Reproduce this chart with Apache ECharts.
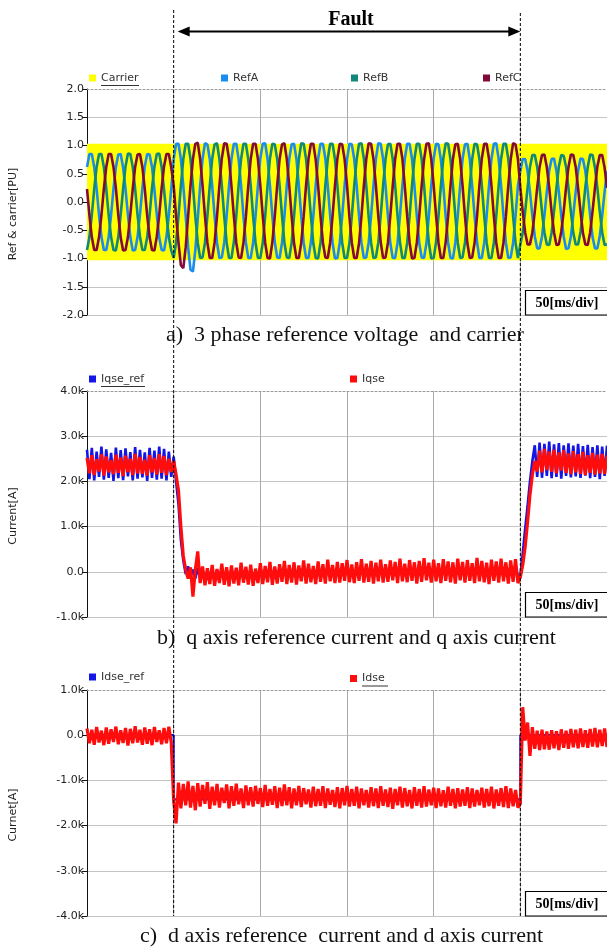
<!DOCTYPE html>
<html>
<head>
<meta charset="utf-8">
<script src="https://cdn.jsdelivr.net/npm/echarts@6/dist/echarts.min.js"></script>
<style>
html,body{margin:0;padding:0;background:#fff;}
#chart{width:607px;height:949px;}
</style>
</head>
<body>
<div id="chart"></div>
<script>
// ---------- data ----------
// sample step: 12 samples per 60 Hz cycle (ms)
const sampleStepMs = 25 / 18;
const faultMs = [50, 250];

const carrierTime = [0, 300];
const carrierPeak = [1.03, 1.03];
const carrierTrough = -1.03;

const refA = [
  0.62,0.85,0.85,0.62,0.23,-0.23,-0.62,-0.85,-0.85,-0.62,-0.23,0.23,
  0.62,0.84,0.85,0.61,0.23,-0.23,-0.62,-0.86,-0.85,-0.62,-0.22,0.24,
  0.63,0.85,0.84,0.62,0.22,-0.23,-0.63,-0.85,-0.86,-0.62,-0.23,0.23,
  0.76,1.03,1.03,0.76,0.29,-0.25,-0.80,-1.20,-1.23,-0.85,-0.30,0.29,
  0.76,1.04,1.02,0.76,0.29,-0.25,-0.72,-0.99,-0.98,-0.72,-0.25,0.29,
  0.76,1.03,1.03,0.75,0.29,-0.26,-0.72,-0.99,-0.99,-0.72,-0.25,0.29,
  0.77,1.03,1.04,0.76,0.28,-0.25,-0.71,-0.98,-0.99,-0.72,-0.25,0.30,
  0.76,1.02,1.03,0.76,0.29,-0.25,-0.72,-0.99,-0.99,-0.71,-0.25,0.29,
  0.76,1.03,1.03,0.77,0.29,-0.24,-0.72,-1.00,-0.99,-0.72,-0.26,0.29,
  0.75,1.03,1.02,0.76,0.30,-0.25,-0.72,-0.99,-0.98,-0.72,-0.25,0.29,
  0.76,1.04,1.03,0.76,0.29,-0.25,-0.73,-0.99,-0.99,-0.72,-0.24,0.28,
  0.76,1.03,1.03,0.76,0.29,-0.25,-0.72,-0.98,-0.99,-0.73,-0.25,0.29,
  0.77,1.03,1.02,0.75,0.29,-0.26,-0.72,-0.99,-1.00,-0.72,-0.25,0.29,
  0.76,1.02,1.03,0.76,0.28,-0.25,-0.71,-0.99,-0.99,-0.72,-0.25,0.30,
  0.76,1.03,1.04,0.76,0.29,-0.25,-0.72,-0.99,-0.98,-0.72,-0.25,0.29,
  0.55,0.76,0.76,0.55,0.18,-0.24,-0.61,-0.82,-0.82,-0.61,-0.24,0.18,
  0.56,0.76,0.77,0.55,0.18,-0.24,-0.61,-0.83,-0.82,-0.61,-0.23,0.18,
  0.55,0.77,0.76,0.55,0.19,-0.24,-0.62,-0.82,-0.82,-0.60,-0.24,0.18,
  0.55
];

const refB = [
  -0.85,-0.62,-0.23,0.23,0.62,0.85,0.85,0.62,0.23,-0.23,-0.62,-0.85,
  -0.86,-0.62,-0.22,0.23,0.63,0.86,0.85,0.62,0.23,-0.23,-0.61,-0.85,
  -0.85,-0.63,-0.23,0.24,0.62,0.85,0.86,0.62,0.22,-0.23,-0.62,-0.86,
  -0.99,-0.72,-0.25,0.29,0.76,1.03,1.03,0.76,0.29,-0.25,-0.72,-0.99,
  -0.98,-0.72,-0.25,0.29,0.76,1.02,1.04,0.76,0.29,-0.25,-0.72,-0.99,
  -0.99,-0.71,-0.25,0.30,0.76,1.03,1.03,0.75,0.29,-0.25,-0.72,-0.99,
  -0.99,-0.72,-0.26,0.29,0.77,1.03,1.02,0.76,0.29,-0.24,-0.72,-0.98,
  -0.99,-0.72,-0.25,0.29,0.76,1.04,1.03,0.76,0.28,-0.25,-0.73,-0.99,
  -1.00,-0.72,-0.25,0.29,0.76,1.03,1.03,0.76,0.29,-0.25,-0.72,-0.99,
  -0.99,-0.73,-0.25,0.28,0.75,1.03,1.04,0.77,0.29,-0.26,-0.72,-0.99,
  -0.98,-0.72,-0.24,0.29,0.76,1.02,1.03,0.76,0.29,-0.25,-0.71,-0.99,
  -0.99,-0.72,-0.25,0.29,0.76,1.03,1.03,0.76,0.30,-0.25,-0.72,-1.00,
  -0.99,-0.71,-0.25,0.29,0.77,1.04,1.03,0.75,0.29,-0.25,-0.72,-0.99,
  -0.98,-0.72,-0.26,0.29,0.76,1.03,1.02,0.76,0.29,-0.24,-0.72,-0.99,
  -0.99,-0.72,-0.25,0.29,0.76,1.03,1.03,0.76,0.29,-0.25,-0.72,-0.99,
  -0.75,-0.54,-0.17,0.25,0.62,0.83,0.83,0.62,0.25,-0.17,-0.54,-0.75,
  -0.76,-0.54,-0.16,0.25,0.63,0.83,0.82,0.62,0.24,-0.17,-0.55,-0.75,
  -0.75,-0.53,-0.17,0.26,0.62,0.84,0.83,0.61,0.25,-0.17,-0.54,-0.76,
  -0.75
];

const refC = [
  0.23,-0.23,-0.62,-0.85,-0.85,-0.62,-0.23,0.23,0.62,0.85,0.85,0.62,
  0.24,-0.23,-0.63,-0.86,-0.85,-0.62,-0.22,0.23,0.62,0.84,0.85,0.62,
  0.23,-0.24,-0.62,-0.85,-0.86,-0.61,-0.23,0.24,0.63,0.85,0.85,0.61,
  0.29,-0.25,-0.72,-1.12,-1.17,-0.80,-0.25,0.29,0.76,1.03,1.05,0.76,
  0.29,-0.25,-0.72,-0.99,-0.99,-0.72,-0.25,0.29,0.77,1.04,1.03,0.76,
  0.28,-0.25,-0.72,-0.98,-0.99,-0.72,-0.26,0.29,0.76,1.03,1.03,0.76,
  0.29,-0.24,-0.72,-0.99,-1.00,-0.71,-0.25,0.29,0.76,1.02,1.04,0.76,
  0.29,-0.25,-0.73,-0.99,-0.99,-0.72,-0.25,0.30,0.76,1.03,1.03,0.75,
  0.29,-0.25,-0.72,-0.98,-0.99,-0.72,-0.25,0.29,0.77,1.03,1.02,0.76,
  0.30,-0.26,-0.72,-0.99,-0.99,-0.73,-0.25,0.29,0.76,1.04,1.03,0.76,
  0.29,-0.25,-0.71,-0.99,-0.98,-0.72,-0.24,0.29,0.76,1.03,1.03,0.77,
  0.28,-0.25,-0.72,-1.00,-0.99,-0.72,-0.25,0.28,0.75,1.03,1.04,0.76,
  0.29,-0.24,-0.72,-0.99,-0.99,-0.71,-0.25,0.29,0.76,1.02,1.03,0.76,
  0.29,-0.25,-0.73,-0.99,-0.98,-0.72,-0.26,0.29,0.77,1.03,1.03,0.76,
  0.29,-0.25,-0.72,-0.99,-0.99,-0.72,-0.25,0.29,0.76,1.04,1.02,0.76,
  0.25,-0.17,-0.54,-0.75,-0.75,-0.54,-0.17,0.25,0.62,0.83,0.84,0.62,
  0.25,-0.18,-0.54,-0.76,-0.75,-0.53,-0.17,0.26,0.62,0.84,0.83,0.62,
  0.24,-0.17,-0.55,-0.75,-0.76,-0.54,-0.16,0.25,0.63,0.83,0.83,0.61,
  0.25
];

// q-axis currents (kA)
const iqseRef = [
  2.70,2.05,2.74,2.02,2.66,2.10,2.77,2.04,2.71,2.08,2.63,2.01,
  2.75,2.07,2.69,2.03,2.73,2.11,2.65,2.02,2.76,2.06,2.70,2.09,
  2.64,2.01,2.74,2.08,2.68,2.04,2.77,2.06,2.72,2.02,2.66,2.10,
  2.55,2.00,1.50,0.70,0.25,-0.05,0.12,-0.12,0.05,-0.15,0.08,-0.14,
  0.04,-0.14,0.02,-0.12,0.06,-0.15,0.03,-0.11,0.07,-0.13,0.04,-0.14,
  0.05,-0.12,0.03,-0.13,0.08,-0.10,0.05,-0.12,0.06,-0.14,0.02,-0.11,
  0.08,-0.11,0.05,-0.09,0.10,-0.12,0.06,-0.10,0.07,-0.08,0.11,-0.11,
  0.07,-0.09,0.10,-0.12,0.06,-0.08,0.11,-0.10,0.08,-0.09,0.05,-0.11,
  0.10,-0.08,0.07,-0.10,0.12,-0.07,0.06,-0.09,0.10,-0.10,0.08,-0.06,
  0.11,-0.09,0.07,-0.10,0.09,-0.07,0.12,-0.09,0.08,-0.08,0.10,-0.10,
  0.09,-0.07,0.12,-0.09,0.08,-0.08,0.11,-0.06,0.10,-0.10,0.12,-0.07,
  0.08,-0.09,0.11,-0.07,0.10,-0.10,0.11,-0.08,0.13,-0.06,0.09,-0.09,
  0.12,-0.07,0.08,-0.10,0.12,-0.07,0.10,-0.09,0.09,-0.10,0.12,-0.06,
  0.10,-0.09,0.11,-0.07,0.08,-0.10,0.13,-0.08,0.11,-0.09,0.09,-0.10,
  0.12,-0.07,0.10,-0.09,0.12,-0.08,0.09,-0.10,0.11,-0.08,0.12,-0.10,
  -0.08,0.40,0.95,1.45,2.00,2.45,2.80,2.10,2.86,2.08,2.83,2.12,
  2.88,2.07,2.82,2.10,2.85,2.06,2.80,2.12,2.84,2.09,2.79,2.11,
  2.83,2.08,2.78,2.13,2.81,2.07,2.76,2.10,2.80,2.05,2.77,2.12,
  2.79
];

const iqse = [
  2.52,2.18,2.58,2.14,2.49,2.22,2.60,2.13,2.55,2.20,2.47,2.16,
  2.59,2.19,2.53,2.12,2.57,2.21,2.50,2.14,2.61,2.18,2.54,2.17,
  2.48,2.13,2.58,2.20,2.52,2.15,2.60,2.19,2.56,2.14,2.50,2.21,
  2.45,2.15,1.80,1.00,0.35,0.05,-0.15,0.10,-0.55,0.05,0.45,-0.25,
  0.12,-0.30,0.08,-0.27,0.15,-0.31,0.06,-0.25,0.18,-0.29,0.10,-0.32,
  0.14,-0.26,0.09,-0.30,0.20,-0.24,0.11,-0.28,0.16,-0.31,0.07,-0.25,
  0.19,-0.27,0.13,-0.23,0.22,-0.29,0.12,-0.26,0.17,-0.22,0.24,-0.27,
  0.15,-0.24,0.21,-0.28,0.14,-0.21,0.25,-0.26,0.18,-0.23,0.13,-0.27,
  0.23,-0.22,0.17,-0.26,0.27,-0.21,0.15,-0.25,0.22,-0.24,0.19,-0.20,
  0.26,-0.23,0.16,-0.25,0.21,-0.20,0.28,-0.24,0.18,-0.22,0.24,-0.26,
  0.20,-0.21,0.27,-0.24,0.17,-0.22,0.25,-0.19,0.22,-0.25,0.29,-0.21,
  0.18,-0.23,0.26,-0.20,0.21,-0.26,0.24,-0.22,0.30,-0.19,0.20,-0.24,
  0.27,-0.21,0.19,-0.25,0.28,-0.20,0.23,-0.23,0.21,-0.26,0.29,-0.19,
  0.22,-0.24,0.26,-0.20,0.19,-0.25,0.31,-0.21,0.24,-0.23,0.20,-0.27,
  0.27,-0.20,0.23,-0.24,0.29,-0.21,0.21,-0.26,0.25,-0.22,0.28,-0.25,
  -0.12,0.15,0.55,1.10,1.70,2.15,2.45,2.22,2.68,2.20,2.72,2.25,
  2.66,2.21,2.70,2.18,2.64,2.24,2.69,2.19,2.62,2.16,2.67,2.20,
  2.60,2.17,2.65,2.14,2.58,2.19,2.63,2.15,2.59,2.18,2.61,2.16,
  2.57
];

// d-axis currents (kA)
const idseRefTime = [0, 50, 50, 250, 250, 300];
const idseRef = [0, 0, -1.42, -1.42, 0, 0];

const idse = [
  0.15,-0.18,0.12,-0.21,0.18,-0.16,0.10,-0.22,0.17,-0.19,0.13,-0.15,
  0.19,-0.20,0.11,-0.17,0.16,-0.23,0.14,-0.18,0.20,-0.16,0.12,-0.21,
  0.17,-0.19,0.13,-0.22,0.18,-0.15,0.11,-0.20,0.16,-0.18,0.19,-0.17,
  -1.45,-1.95,-1.05,-1.62,-1.08,-1.55,-1.02,-1.60,-1.12,-1.66,-1.06,-1.58,
  -1.10,-1.52,-1.04,-1.63,-1.14,-1.55,-1.08,-1.60,-1.16,-1.50,-1.09,-1.62,
  -1.13,-1.56,-1.07,-1.53,-1.18,-1.61,-1.11,-1.55,-1.15,-1.58,-1.12,-1.52,
  -1.17,-1.59,-1.10,-1.56,-1.19,-1.54,-1.13,-1.61,-1.16,-1.57,-1.09,-1.55,
  -1.15,-1.62,-1.18,-1.55,-1.12,-1.59,-1.17,-1.53,-1.20,-1.60,-1.14,-1.57,
  -1.19,-1.56,-1.13,-1.61,-1.18,-1.54,-1.21,-1.59,-1.15,-1.62,-1.17,-1.55,
  -1.12,-1.58,-1.19,-1.56,-1.14,-1.62,-1.18,-1.55,-1.21,-1.60,-1.15,-1.57,
  -1.18,-1.61,-1.13,-1.56,-1.20,-1.59,-1.16,-1.63,-1.19,-1.55,-1.14,-1.60,
  -1.17,-1.57,-1.21,-1.62,-1.15,-1.56,-1.19,-1.60,-1.13,-1.58,-1.20,-1.55,
  -1.16,-1.61,-1.18,-1.57,-1.22,-1.60,-1.14,-1.56,-1.19,-1.62,-1.17,-1.58,
  -1.20,-1.56,-1.15,-1.61,-1.18,-1.58,-1.21,-1.55,-1.16,-1.60,-1.19,-1.57,
  -1.14,-1.62,-1.20,-1.56,-1.17,-1.59,-1.13,-1.61,-1.18,-1.57,-1.21,-1.60,
  -1.52,0.62,-0.12,0.28,-0.46,0.18,-0.30,0.10,-0.33,0.12,-0.31,0.08,
  -0.32,0.11,-0.29,0.09,-0.33,0.13,-0.28,0.10,-0.30,0.14,-0.27,0.12,
  -0.29,0.15,-0.26,0.11,-0.28,0.14,-0.25,0.16,-0.27,0.12,-0.24,0.15,
  -0.26
];

// tick labels
const refTickValues = [-2, -1.5, -1, -0.5, 0, 0.5, 1, 1.5, 2];
const refTickLabels = ['-2.0', '-1.5', '-1.0', '-0.5', '0.0', '0.5', '1.0', '1.5', '2.0'];
const iqTickValues = [-1, 0, 1, 2, 3, 4];
const iqTickLabels = ['-1.0k', '0.0', '1.0k', '2.0k', '3.0k', '4.0k'];
const idTickValues = [-4, -3, -2, -1, 0, 1];
const idTickLabels = ['-4.0k', '-3.0k', '-2.0k', '-1.0k', '0.0', '1.0k'];

const captions = [
  'a)  3 phase reference voltage  and carrier',
  'b)  q axis reference current and q axis current',
  'c)  d axis reference  current and d axis current'
];

// ---------- chart ----------
const toPairs = (vals) => vals.map((v, k) => [k * sampleStepMs, v]);
const zip = (xs, ys) => xs.map((x, i) => [x, ys[i]]);

const gridTops = [89, 391, 690];
const gridH = 226;
const gridLeft = 87;

function labelFmt(vals, labels) {
  return function (v) {
    const i = vals.findIndex(t => Math.abs(t - v) < 1e-9);
    return i >= 0 ? labels[i] : '';
  };
}

function makeY(gi, min, max, interval, vals, labels, name) {
  const n = vals.length;
  const colors = [];
  for (let i = 0; i < n - 1; i++) colors.push('#c4c4c4');
  colors.push('rgba(0,0,0,0)');
  return {
    gridIndex: gi, type: 'value', min: min, max: max, interval: interval,
    name: name, nameLocation: 'middle', nameGap: 68,
    nameTextStyle: { fontFamily: 'DejaVu Sans', fontSize: 11, color: '#222', padding: [0, 24, 0, 0] },
    axisLine: { show: true, onZero: false, lineStyle: { color: '#111', width: 1 } },
    axisTick: { show: true, length: 5, lineStyle: { color: '#111' } },
    axisLabel: { fontFamily: 'DejaVu Sans', fontSize: 11, color: '#222', margin: 3, formatter: labelFmt(vals, labels) },
    splitLine: { show: true, lineStyle: { color: colors, width: 1 } }
  };
}

function makeX(gi) {
  return {
    gridIndex: gi, type: 'value', min: 0, max: 300, interval: 50, position: 'top',
    axisLine: { show: true, onZero: false, lineStyle: { color: '#999', type: [2, 2], width: 1 } },
    axisTick: { show: false }, axisLabel: { show: false },
    splitLine: { show: true, lineStyle: { color: '#aaaaaa', width: 1 } }
  };
}

function mkLegend(name, left, top) {
  return {
    data: [name], left: left, top: top, padding: 0, icon: 'rect',
    itemWidth: 7, itemHeight: 7, selectedMode: false,
    textStyle: { fontFamily: 'DejaVu Sans', fontSize: 11, color: '#333' }
  };
}

function lineSeries(name, xi, data, color, width) {
  return {
    name: name, type: 'line', xAxisIndex: xi, yAxisIndex: xi, data: data,
    showSymbol: false, symbol: 'none', silent: true,
    lineStyle: { color: color, width: width }, itemStyle: { color: color }
  };
}

const chart = echarts.init(document.getElementById('chart'), null, { renderer: 'canvas' });

const option = {
  animation: false,
  backgroundColor: '#ffffff',
  textStyle: { fontFamily: 'DejaVu Sans' },
  title: captions.map((t, i) => ({
    text: t, left: [166, 157, 140][i], top: [324, 627, 925][i], padding: 0,
    textStyle: { fontFamily: 'Liberation Serif', fontSize: 22, fontWeight: 'normal', color: '#111' }
  })),
  grid: gridTops.map(t => ({ left: gridLeft, right: 0, top: t, height: gridH })),
  xAxis: [makeX(0), makeX(1), makeX(2)],
  yAxis: [
    makeY(0, -2, 2, 0.5, refTickValues, refTickLabels, 'Ref & carrier[PU]'),
    makeY(1, -1, 4, 1, iqTickValues, iqTickLabels, 'Current[A]'),
    makeY(2, -4, 1, 1, idTickValues, idTickLabels, 'Curnet[A]')
  ],
  legend: [
    mkLegend('Carrier', 89, 72.5),
    mkLegend('RefA', 221, 72.5),
    mkLegend('RefB', 351, 72.5),
    mkLegend('RefC', 483, 72.5),
    mkLegend('Iqse_ref', 89, 373.5),
    mkLegend('Iqse', 350, 373.5),
    mkLegend('Idse_ref', 89, 671.5),
    mkLegend('Idse', 350, 673)
  ],
  series: [
    {
      name: 'Carrier', type: 'line', xAxisIndex: 0, yAxisIndex: 0,
      data: zip(carrierTime, carrierPeak), symbol: 'none', silent: true,
      lineStyle: { width: 0, color: '#ffff00' }, itemStyle: { color: '#ffff00' },
      areaStyle: { color: '#ffff00', opacity: 1, origin: carrierTrough }
    },
    lineSeries('RefA', 0, toPairs(refA), '#1a8cf0', 2.6),
    lineSeries('RefB', 0, toPairs(refB), '#10887a', 2.6),
    lineSeries('RefC', 0, toPairs(refC), '#820a3a', 2.6),
    lineSeries('Iqse_ref', 1, toPairs(iqseRef), '#1515e6', 2.6),
    lineSeries('Iqse', 1, toPairs(iqse), '#ff0d0d', 3.2),
    lineSeries('Idse_ref', 2, zip(idseRefTime, idseRef), '#1515e6', 2.2),
    lineSeries('Idse', 2, toPairs(idse), '#ff0d0d', 3.2)
  ]
};
chart.setOption(option);

// ---------- annotations (positions from the axis scale) ----------
const xs = chart.convertToPixel({ gridIndex: 0 }, [faultMs[0], 0])[0];
const xe = chart.convertToPixel({ gridIndex: 0 }, [faultMs[1], 0])[0];
const bottomY = gridTops[2] + gridH;
const arrowY = 31.5;

const graphics = [
  { type: 'line', z: 100, shape: { x1: xs, y1: 10, x2: xs, y2: bottomY }, style: { stroke: '#000', lineWidth: 1, lineDash: [3, 2] } },
  { type: 'line', z: 100, shape: { x1: xe, y1: 13, x2: xe, y2: bottomY }, style: { stroke: '#000', lineWidth: 1, lineDash: [3, 2] } },
  { type: 'line', z: 100, shape: { x1: xs + 8, y1: arrowY, x2: xe - 6, y2: arrowY }, style: { stroke: '#000', lineWidth: 2 } },
  { type: 'polygon', z: 100, shape: { points: [[xs + 4, arrowY], [xs + 16, arrowY - 5], [xs + 16, arrowY + 5]] }, style: { fill: '#000' } },
  { type: 'polygon', z: 100, shape: { points: [[xe, arrowY], [xe - 12, arrowY - 5], [xe - 12, arrowY + 5]] }, style: { fill: '#000' } },
  { type: 'text', z: 100, style: { text: 'Fault', x: (xs + xe) / 2 + 4, y: 20, fill: '#000', font: 'bold 20px "Liberation Serif"', align: 'center', verticalAlign: 'middle' } },
  // legend underlines
  { type: 'line', z: 100, shape: { x1: 101, y1: 85.5, x2: 139, y2: 85.5 }, style: { stroke: '#333', lineWidth: 1 } },
  { type: 'line', z: 100, shape: { x1: 101, y1: 386.5, x2: 145, y2: 386.5 }, style: { stroke: '#333', lineWidth: 1 } },
  { type: 'line', z: 100, shape: { x1: 362, y1: 686, x2: 388, y2: 686 }, style: { stroke: '#333', lineWidth: 1 } }
];
gridTops.forEach(t => {
  const gb = t + gridH;
  graphics.push({ type: 'rect', z: 90, shape: { x: 525.5, y: gb - 24.5, width: 90, height: 24.5 }, style: { fill: '#fff', stroke: '#000', lineWidth: 1.2 } });
  graphics.push({ type: 'text', z: 91, style: { text: '50[ms/div]', x: 567, y: gb - 12, fill: '#000', font: 'bold 14px "Liberation Serif"', align: 'center', verticalAlign: 'middle' } });
});
chart.setOption({ graphic: graphics });
</script>
</body>
</html>
